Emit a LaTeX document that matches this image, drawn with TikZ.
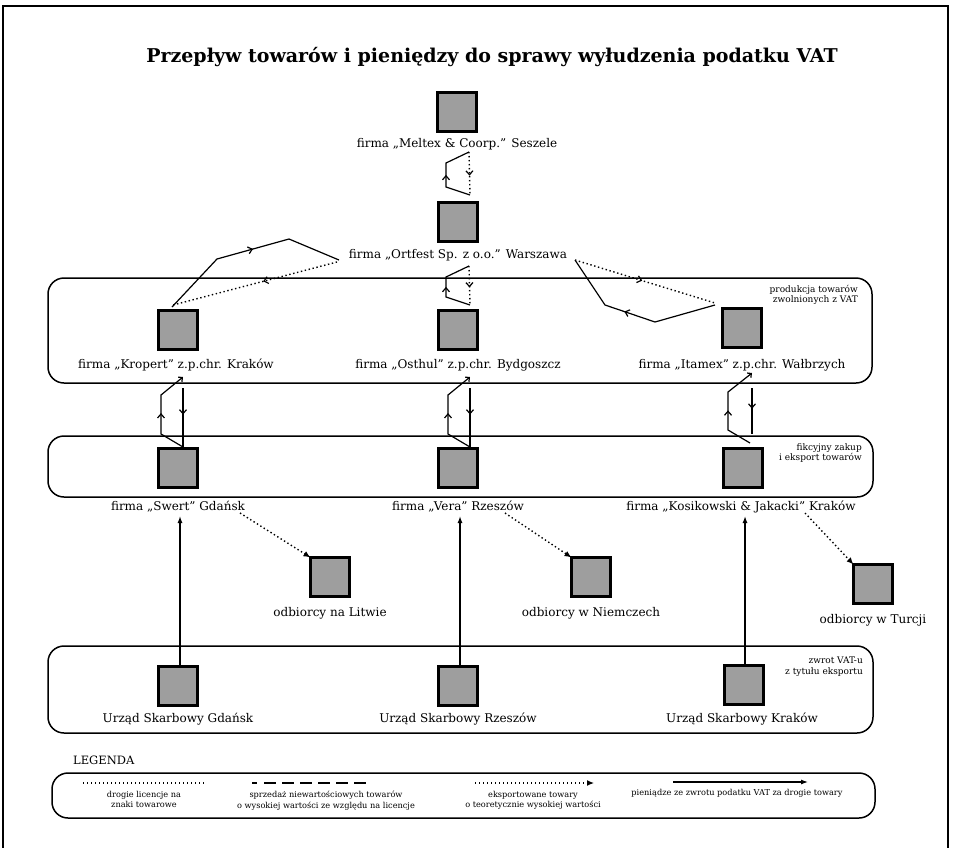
\documentclass[tikz,border=0pt]{standalone}
\usepackage{fontspec}
\setmainfont{DejaVu Serif}
\usetikzlibrary{arrows.meta,decorations.markings,calc}
\begin{document}
\begin{tikzpicture}[x=1pt,y=-1pt,
  firm/.style={draw=black,line width=3.8pt,fill=black!38,minimum size=39pt,inner sep=0pt,outer sep=0pt},
  lbl/.style={font=\fontsize{12}{14}\selectfont,inner sep=0pt,anchor=base},
  group/.style={draw=black,line width=1.5pt,rounded corners=16pt},
  note/.style={font=\fontsize{9}{10.5}\selectfont,align=right,anchor=north east,inner sep=0pt},
  legtxt/.style={font=\fontsize{8.2}{10.5}\selectfont,align=center,anchor=north,inner sep=0pt},
  goods/.style={line width=1.2pt},
  licence/.style={line width=1.4pt,dash pattern=on 1.4pt off 2.6pt},
  money/.style={line width=1.3pt,-{Latex[length=7pt,width=5pt]}},
  export/.style={line width=1.4pt,dash pattern=on 1.4pt off 2.6pt,-{Latex[length=7pt,width=6pt]}},
  barb/.style={postaction={decorate},decoration={markings,mark=at position #1 with {\arrow{Straight Barb[length=4pt,width=7pt,line width=1.2pt]}}}},
]
\useasboundingbox (0,0) rectangle (953,847);
\fill[white] (0,0) rectangle (953,847);

% outer frame
\draw[line width=1.2pt] (3,850) -- (3,6) -- (948,6) -- (948,850);

% title
\node[font=\fontsize{19}{22}\selectfont\bfseries,anchor=base,inner sep=0pt] (title) at (492,62)
  {Przepływ towarów i pieniędzy do sprawy wyłudzenia podatku VAT};

% grouping frames
\draw[group] (48,278) rectangle (872,383);
\draw[group] (48,436) rectangle (873,497);
\draw[group] (48,646) rectangle (873,733);
\node[note] (n1) at (858,285) {produkcja towarów\\zwolnionych z VAT};
\node[note] (n2) at (862,443) {fikcyjny zakup\\i eksport towarów};
\node[note] (n3) at (863,657) {zwrot VAT-u\\z tytułu eksportu};

% firms
\node[firm] (meltex)  at (457,112) {};
\node[firm] (ortfest) at (458,222) {};
\node[firm] (kropert) at (178,330) {};
\node[firm] (osthul)  at (458,330) {};
\node[firm] (itamex)  at (742,328) {};
\node[firm] (swert)   at (178,468) {};
\node[firm] (vera)    at (458,468) {};
\node[firm] (kosik)   at (743,468) {};
\node[firm] (litwa)   at (330,577) {};
\node[firm] (niemcy)  at (591,577) {};
\node[firm] (turcja)  at (873,584) {};
\node[firm] (usGd)    at (178,686) {};
\node[firm] (usRz)    at (458,686) {};
\node[firm] (usKr)    at (744,685) {};

\node[lbl] (meltexL)  at (457,147) {firma „Meltex \& Coorp.” Seszele};
\node[lbl] (ortfestL) at (458,258) {firma „Ortfest Sp. z o.o.” Warszawa};
\node[lbl] (kropertL) at (176,368) {firma „Kropert” z.p.chr. Kraków};
\node[lbl] (osthulL)  at (458,368) {firma „Osthul” z.p.chr. Bydgoszcz};
\node[lbl] (itamexL)  at (742,368) {firma „Itamex” z.p.chr. Wałbrzych};
\node[lbl] (swertL)   at (178,510) {firma „Swert” Gdańsk};
\node[lbl] (veraL)    at (458,510) {firma „Vera” Rzeszów};
\node[lbl] (kosikL)   at (741,510) {firma „Kosikowski \& Jakacki” Kraków};
\node[lbl] (litwaL)   at (330,616) {odbiorcy na Litwie};
\node[lbl] (niemcyL)  at (591,616) {odbiorcy w Niemczech};
\node[lbl] (turcjaL)  at (873,623) {odbiorcy w Turcji};
\node[lbl] (usGdL)    at (178,722) {Urząd Skarbowy Gdańsk};
\node[lbl] (usRzL)    at (458,722) {Urząd Skarbowy Rzeszów};
\node[lbl] (usKrL)    at (742,722) {Urząd Skarbowy Kraków};

% Meltex <-> Ortfest
\coordinate (a1) at (470,195); \coordinate (a2) at (469,152);
\draw[goods,barb=0.5] (a1) -- (446,187) -- (446,163) -- (a2);
\draw[licence,barb=0.55] (a2) -- (a1);

% Ortfest <-> Osthul
\coordinate (b1) at (470,305); \coordinate (b2) at (469,266);
\draw[goods,barb=0.5] (b1) -- (446,297) -- (446,277) -- (b2);
\draw[licence,barb=0.55] (b2) -- (b1);

% Ortfest <-> Kropert
\coordinate (c1) at (172,307); \coordinate (c2) at (339,260);
\coordinate (c3) at (337,262); \coordinate (c4) at (173,305);
\draw[goods,barb=0.53] (c1) -- (217,259) -- (289,239) -- (c2);
\draw[licence,barb=0.45] (c3) -- (c4);

% Ortfest <-> Itamex
\coordinate (d1) at (575,260); \coordinate (d2) at (715,303);
\coordinate (d3) at (715,305);
\draw[licence,barb=0.48] (d1) -- (d2);
\draw[goods,barb=0.56] (d3) -- (655,322) -- (605,305) -- (d1);

% production -> fictitious purchase
\coordinate (e1) at (183,447); \coordinate (e2) at (183,377); \coordinate (e3) at (183,388);
\draw[goods,barb=0.5,-{Straight Barb[length=3pt,width=6pt]}] (e1) -- (161,434) -- (161,395) -- (e2);
\draw[goods,barb=0.45] (e3) -- (e1);

\coordinate (f1) at (470,447); \coordinate (f2) at (470,377); \coordinate (f3) at (470,388);
\draw[goods,barb=0.5,-{Straight Barb[length=3pt,width=6pt]}] (f1) -- (448,434) -- (448,395) -- (f2);
\draw[goods,barb=0.45] (f3) -- (f1);

\coordinate (g1) at (750,443); \coordinate (g2) at (752,373); \coordinate (g3) at (752,388);
\draw[goods,barb=0.48,-{Straight Barb[length=3pt,width=6pt]}] (g1) -- (728,430) -- (728,392) -- (g2);
\draw[goods,barb=0.45] (g3) -- (752,434);

% exports
\coordinate (h1) at (240,513); \coordinate (h2) at (505,513); \coordinate (h3) at (805,513);
\draw[export] (h1) -- (litwa.north west);
\draw[export] (h2) -- (niemcy.north west);
\draw[export] (h3) -- (turcja.north west);

% VAT refunds
\coordinate (m1) at (180,516); \coordinate (m2) at (460,516); \coordinate (m3) at (745,516);
\draw[money] (usGd.north -| m1) -- (m1);
\draw[money] (usRz.north -| m2) -- (m2);
\draw[money] (usKr.north -| m3) -- (m3);

% legend
\node[font=\fontsize{11.5}{13}\selectfont,anchor=base west,inner sep=0pt] (leg) at (73,764) {LEGENDA};
\draw[group] (52,773) rectangle (875,818);
\coordinate (l1a) at (83,783);  \coordinate (l1b) at (205,783);
\coordinate (l2a) at (252,783); \coordinate (l2b) at (378,783);
\coordinate (l3a) at (475,783); \coordinate (l3b) at (594,783);
\coordinate (l4a) at (673,782); \coordinate (l4b) at (808,782);
\draw[line width=1.3pt,dash pattern=on 1.3pt off 2.7pt] (l1a) -- (l1b);
\draw[line width=2pt,dash pattern=on 5pt off 7pt on 12pt off 6pt on 12pt off 6pt on 12pt off 6pt on 12pt off 6pt on 12pt off 6pt on 12pt off 100pt] (l2a) -- (l2b);
\draw[export,line width=1.2pt] (l3a) -- (l3b);
\draw[money,line width=1.2pt] (l4a) -- (l4b);
\node[legtxt] (t1) at (144,791) {drogie licencje na\\znaki towarowe};
\node[legtxt] (t2) at (326,791) {sprzedaż niewartościowych towarów\\o wysokiej wartości ze względu na licencje};
\node[legtxt] (t3) at (533,791) {eksportowane towary\\o teoretycznie wysokiej wartości};
\node[legtxt] (t4) at (737,789) {pieniądze ze zwrotu podatku VAT za drogie towary};
\end{tikzpicture}
\end{document}
